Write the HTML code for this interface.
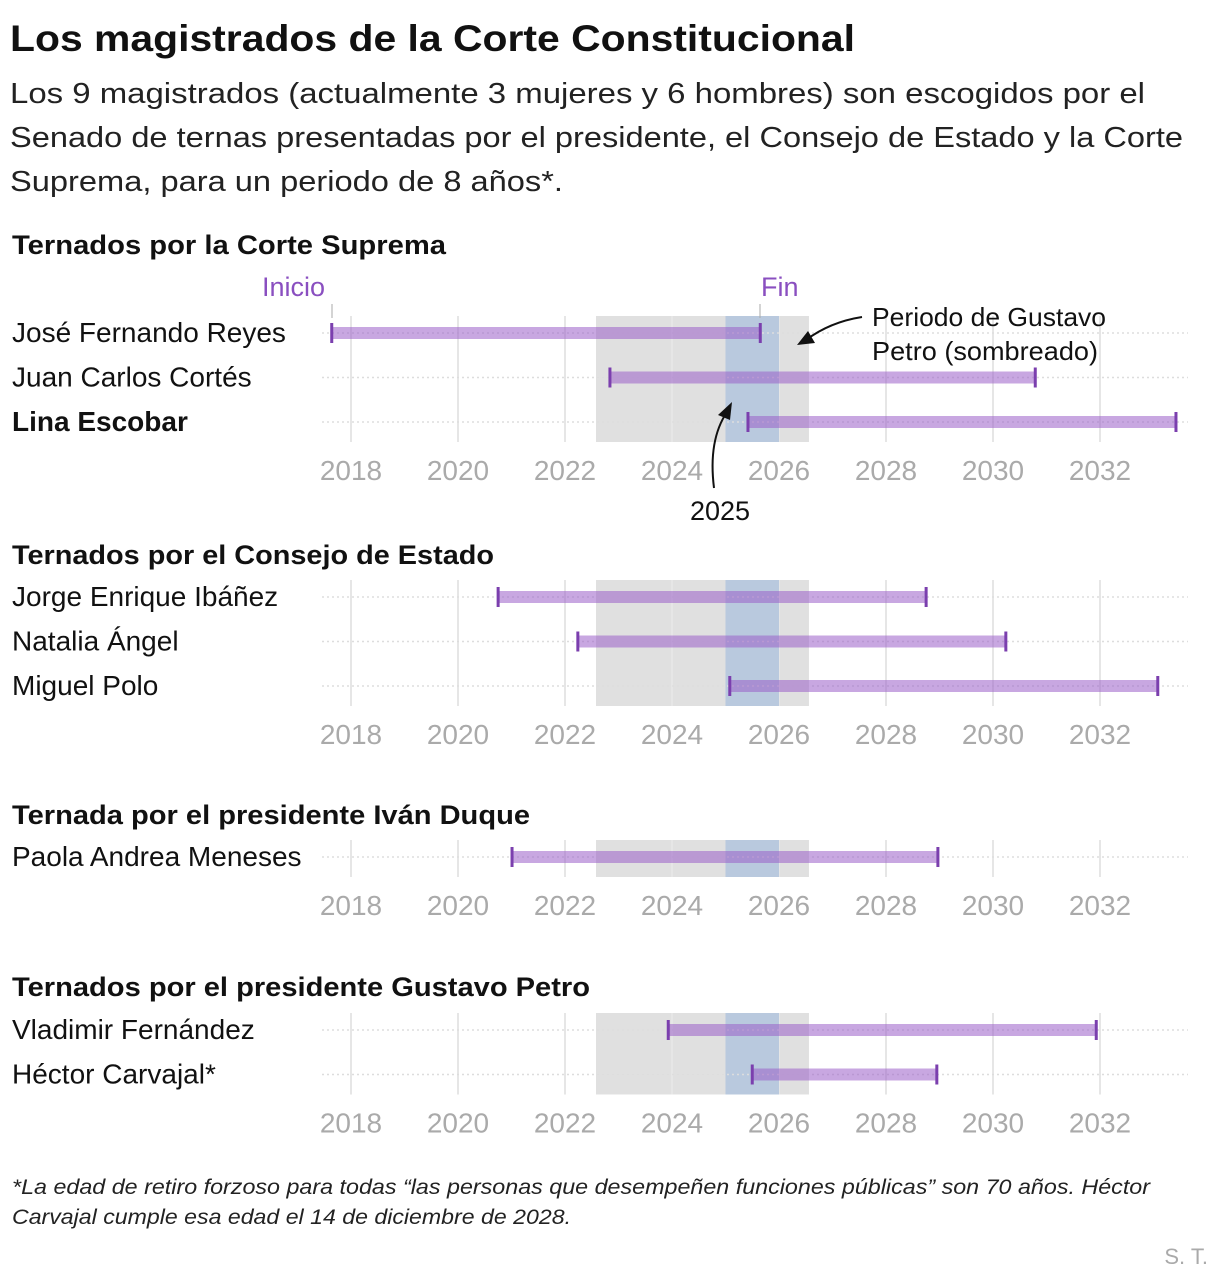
<!DOCTYPE html>
<html><head><meta charset="utf-8"><style>
body{margin:0;background:#fff;}
svg{display:block;font-family:"Liberation Sans",sans-serif;}
</style></head><body>
<svg id="c" width="1220" height="1286" viewBox="0 0 1220 1286">
<text x="10" y="51" font-size="37" font-weight="bold" fill="#111" textLength="845" lengthAdjust="spacingAndGlyphs">Los magistrados de la Corte Constitucional</text>
<g font-size="29" fill="#222">
<text x="10" y="103" textLength="1135" lengthAdjust="spacingAndGlyphs">Los 9 magistrados (actualmente 3 mujeres y 6 hombres) son escogidos por el</text>
<text x="10" y="147" textLength="1173" lengthAdjust="spacingAndGlyphs">Senado de ternas presentadas por el presidente, el Consejo de Estado y la Corte</text>
<text x="10" y="191" textLength="553" lengthAdjust="spacingAndGlyphs">Suprema, para un periodo de 8 años*.</text>
</g>
<g id="panels"></g>
<text x="262" y="296" font-size="27" fill="#8a4fc0">Inicio</text>
<line x1="332" y1="304" x2="332" y2="318" stroke="#aaa"/>
<text x="761" y="296" font-size="27" fill="#8a4fc0">Fin</text>
<line x1="760" y1="304" x2="760" y2="318" stroke="#aaa"/>
<text x="872" y="326" font-size="26" fill="#111" textLength="234" lengthAdjust="spacingAndGlyphs">Periodo de Gustavo</text>
<text x="872" y="360" font-size="26" fill="#111" textLength="226" lengthAdjust="spacingAndGlyphs">Petro (sombreado)</text>
<path d="M862 317 Q830 322 806 340" fill="none" stroke="#111" stroke-width="2"/>
<polygon points="797,345 808,331 815,343" fill="#111"/>
<text x="690" y="520" font-size="27" fill="#111">2025</text>
<path d="M714 488 Q708 440 727 412" fill="none" stroke="#111" stroke-width="2"/>
<polygon points="732,402 718,415 730,420" fill="#111"/>
<g font-size="21" font-style="italic" fill="#222">
<text x="12" y="1194" textLength="1138" lengthAdjust="spacingAndGlyphs">*La edad de retiro forzoso para todas “las personas que desempeñen funciones públicas” son 70 años. Héctor</text>
<text x="12" y="1224" textLength="559" lengthAdjust="spacingAndGlyphs">Carvajal cumple esa edad el 14 de diciembre de 2028.</text>
</g>
<text x="1208" y="1264" font-size="22" fill="#aaa" text-anchor="end">S. T.</text>
</svg>
<script>
const groups = ["Ternados por la Corte Suprema","Ternados por el Consejo de Estado","Ternada por el presidente Iván Duque","Ternados por el presidente Gustavo Petro"];
const names = ["José Fernando Reyes","Juan Carlos Cortés","Lina Escobar","Jorge Enrique Ibáñez","Natalia Ángel","Miguel Polo","Paola Andrea Meneses","Vladimir Fernández","Héctor Carvajal*"];
const nameGroup = [0,0,0,1,1,1,2,3,3];
const starts = [2017.64,2022.84,2025.42,2020.75,2022.24,2025.08,2021.01,2023.93,2025.5];
const ends = [2025.65,2030.79,2033.42,2028.75,2030.24,2033.08,2028.97,2031.93,2028.95];
const ticks = [2018,2020,2022,2024,2026,2028,2030,2032];
const petroStart = 2022.58, petroEnd = 2026.56;
const yearStart = 2025, yearEnd = 2026;

const NS="http://www.w3.org/2000/svg";
const g=document.getElementById('panels');
function x(v){return 351+(v-2018)*53.5;}
function mk(tag,attrs,parent){const e=document.createElementNS(NS,tag);for(const k in attrs)e.setAttribute(k,attrs[k]);(parent||g).appendChild(e);return e;}
const headerY=[245,555,815,987];
const headerLen=[434,482,518,578];
const firstRowY=[333,597,857,1030];
const rowStep=44.5;
groups.forEach((gn,gi)=>{
  const idx=names.map((n,i)=>i).filter(i=>nameGroup[i]===gi);
  const h=mk('text',{x:12,y:headerY[gi]+9,'font-size':27,'font-weight':'bold',fill:'#111',textLength:headerLen[gi],lengthAdjust:'spacingAndGlyphs'});
  h.textContent=gn;
  
  
  const top=firstRowY[gi]-17, bot=firstRowY[gi]+(idx.length-1)*rowStep+20;
  const sh=mk('rect',{x:x(petroStart),y:top,width:x(petroEnd)-x(petroStart),height:bot-top,fill:'#e0e0e0'});
  
  
  ticks.forEach(t=>{
    const l=mk('line',{x1:x(t),x2:x(t),y1:top,y2:bot,stroke:'#e6e6e6','stroke-width':2});
    
    
  });
  const bl=mk('rect',{x:x(yearStart),y:top,width:x(yearEnd)-x(yearStart),height:bot-top,fill:'#b9c9de'});
  
  
  ticks.forEach(t=>{
    const tl=mk('text',{x:x(t),y:bot+38,'font-size':28,fill:'#aaa','text-anchor':'middle'});
    tl.textContent=t;
    
    
  });
  idx.forEach((i,k)=>{
    const y=firstRowY[gi]+k*rowStep;
    const d=mk('line',{x1:322,x2:1188,y1:y,y2:y,stroke:'#ddd','stroke-width':1.5,'stroke-dasharray':'2 3'});
    
    
    const nl=mk('text',{x:12,y:y+9,'font-size':28,fill:'#111','font-weight':i===2?'bold':'normal'});
    nl.textContent=names[i];
    
    
    const b=mk('rect',{x:x(starts[i]),y:y-6,width:x(ends[i])-x(starts[i]),height:12,fill:'#9b5fc8','fill-opacity':0.55});
    
    
    [starts[i],ends[i]].forEach(v=>{
      const t=mk('rect',{x:x(v)-1.5,y:y-10,width:3,height:20,fill:'#7b3fae'});
      
      
    });
  });
});
</script>
</body></html>
